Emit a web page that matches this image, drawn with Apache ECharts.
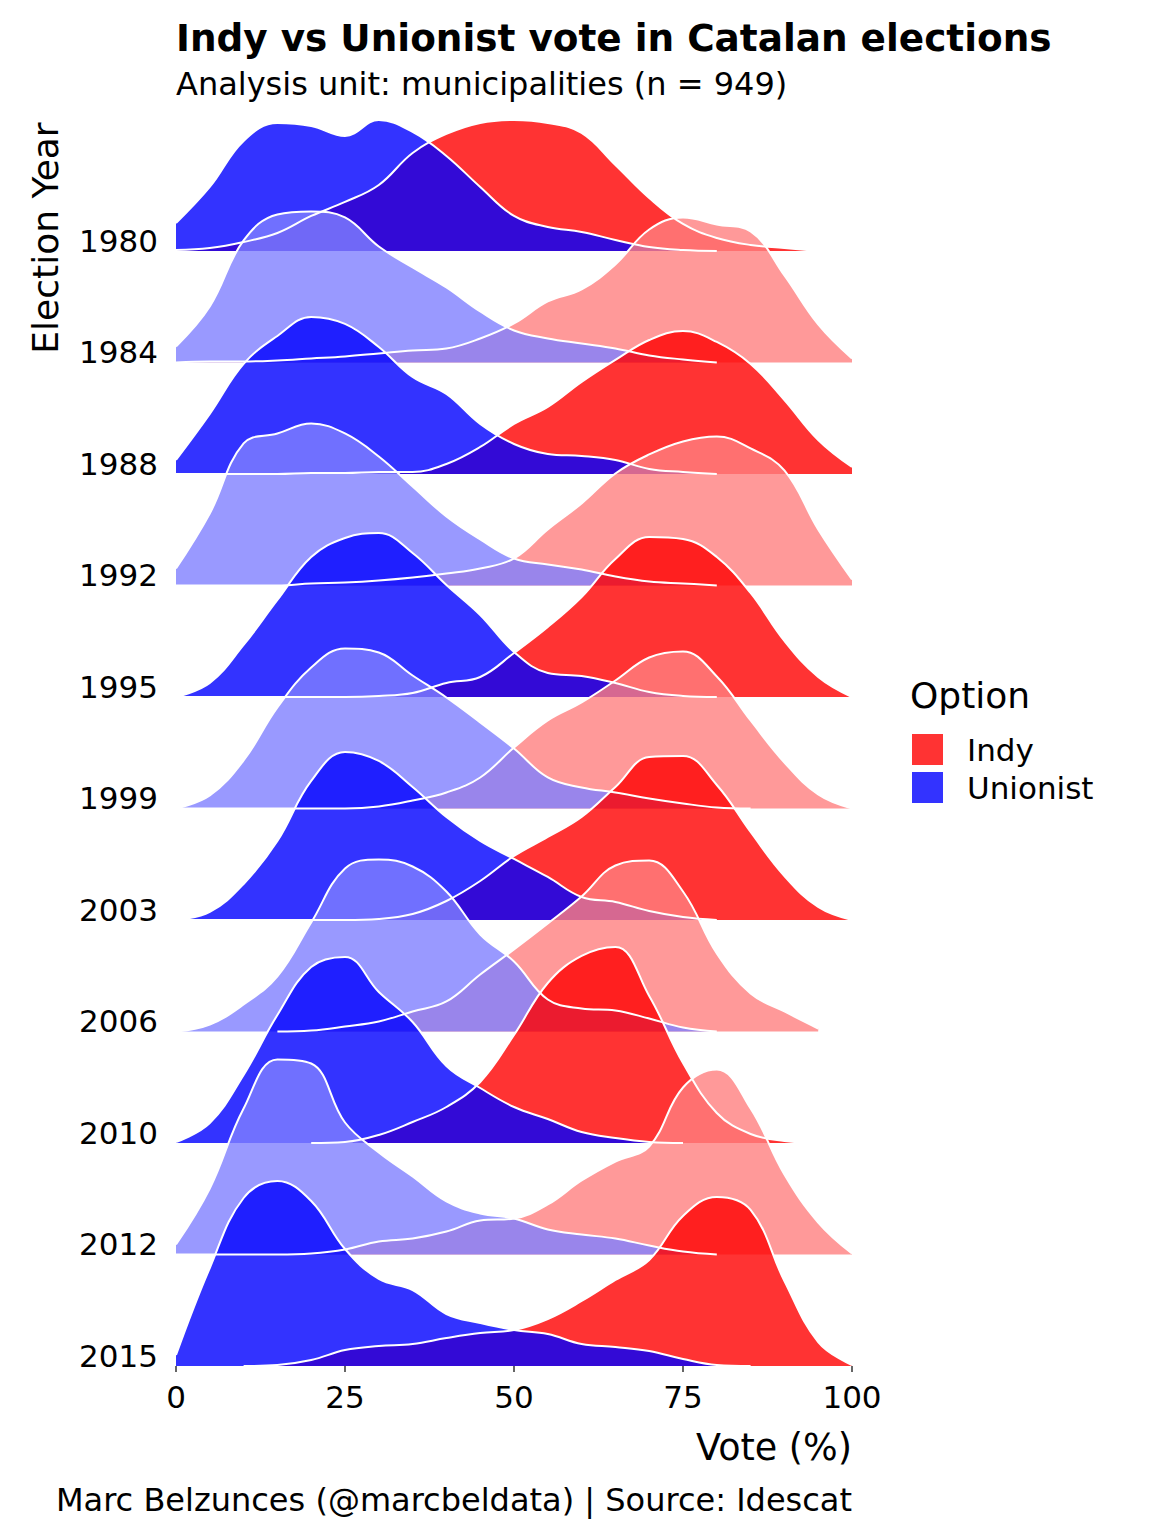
<!DOCTYPE html>
<html>
<head>
<meta charset="utf-8">
<title>Indy vs Unionist vote in Catalan elections</title>
<script src="https://cdn.jsdelivr.net/npm/echarts@6/dist/echarts.min.js"></script>
<style>
  html, body { margin: 0; padding: 0; background: #fff; }
  #main { width: 1152px; height: 1536px; }
</style>
</head>
<body>
<div id="main"></div>
<script>
// vote share (%) at which every density curve was read
var votePoints = [0, 5, 10, 15, 20, 25, 30, 35, 40, 45, 50, 55, 60, 65, 70, 75, 80, 85, 90, 95, 100];
var years = ['1980', '1984', '1988', '1992', '1995', '1999', '2003', '2006', '2010', '2012', '2015'];
var options = ['Indy', 'Unionist'];

// density heights (relative units), null = outside data range
var indy1980     = [1, 3, 9, 18, 35, 49, 66, 98, 117, 128, 131, 128, 118, 86, 53, 27, 13, 6, 3, 0, null];
var unionist1980 = [28, 64, 110, 128, 125, 115, 131, 119, 95, 64, 35, 24, 19, 11, 4, 1, 0, null, null, null, null];
var indy1984     = [0, 1, 1, 2, 4, 6, 9, 12, 14, 24, 39, 61, 73, 98, 133, 145, 138, 131, 87, 38, 4];
var unionist1984 = [16, 56, 122, 148, 151, 145, 116, 95, 75, 51, 32, 24, 19, 14, 7, 3, 0, null, null, null, null];
var indy1988     = [0, 0, 0, 0, 1, 1, 2, 2, 10, 27, 50, 67, 92, 114, 134, 143, 132, 110, 74, 34, 7];
var unionist1988 = [14, 60, 110, 138, 157, 150, 127, 97, 80, 50, 30, 20, 18, 14, 5, 2, 0, null, null, null, null];
var indy1992     = [0, 0, 0, 0, 2, 3, 5, 8, 12, 17, 27, 56, 82, 112, 131, 144, 149, 137, 115, 56, 6];
var unionist1992 = [17, 72, 142, 152, 162, 152, 129, 99, 69, 46, 27, 21, 16, 9, 4, 2, 0, null, null, null, null];
var indy1995     = [0, 0, 0, 0, 0, 0, 1, 4, 14, 20, 44, 70, 100, 138, 160, 158, 140, 104, 56, 20, 0];
var unionist1995 = [0, 14, 52, 97, 140, 159, 164, 144, 112, 82, 45, 24, 21, 14, 5, 1, 0, null, null, null, null];
var indy1999     = [0, 0, 0, 0, 0, 0, 2, 8, 16, 31, 61, 88, 106, 128, 151, 157, 132, 88, 46, 14, 0];
var unionist1999 = [0, 13, 48, 101, 141, 160, 156, 133, 111, 86, 60, 31, 21, 16, 10, 5, 1, 0, null, null, null];
var indy2003     = [0, 0, 0, 0, 0, 0, 1, 6, 19, 39, 64, 83, 103, 133, 163, 164, 135, 88, 44, 13, 0];
var unionist2003 = [0, 8, 36, 79, 139, 168, 159, 133, 103, 79, 61, 43, 23, 18, 9, 3, 0, null, null, null, null];
var indy2006     = [null, null, null, 0, 1, 5, 10, 20, 30, 57, 82, 108, 135, 166, 171, 140, 78, 38, 20, 3, null];
var unionist2006 = [0, 7, 27, 55, 109, 163, 172, 165, 140, 97, 70, 32, 23, 21, 13, 4, 0, null, null, null, null];
var indy2010     = [null, null, null, null, 0, 1, 8, 21, 36, 61, 108, 160, 187, 196, 147, 80, 30, 9, 2, 0, null];
var unionist2010 = [1, 20, 68, 128, 176, 186, 151, 121, 77, 55, 36, 24, 11, 5, 1, 0, null, null, null, null, null];
var indy2012     = [0, 0, 0, 0, 1, 5, 13, 16, 23, 34, 36, 50, 74, 93, 108, 167, 185, 146, 80, 32, 1];
var unionist2012 = [10, 66, 146, 195, 191, 132, 102, 78, 53, 41, 36, 25, 20, 16, 9, 3, 0, null, null, null, null];
var indy2015     = [null, null, 0, 1, 6, 16, 20, 22, 28, 33, 36, 47, 65, 86, 106, 150, 169, 156, 85, 24, 1];
var unionist2015 = [11, 98, 168, 185, 165, 117, 87, 76, 52, 43, 36, 32, 22, 19, 15, 7, 1, 0, null, null, null];

var indyByYear = [indy1980, indy1984, indy1988, indy1992, indy1995, indy1999, indy2003, indy2006, indy2010, indy2012, indy2015];
var unionistByYear = [unionist1980, unionist1984, unionist1988, unionist1992, unionist1995, unionist1999,
    unionist2003, unionist2006, unionist2010, unionist2012, unionist2015];

var densityPerRow = 111.5;   // density units that fill one ridge row
var font = 'DejaVu Sans';
// strong / pale fill for alternating years
var indyFill = ['rgba(255,0,0,0.8)', 'rgba(255,128,128,0.8)'];
var unionistFill = ['rgba(0,0,255,0.8)', 'rgba(128,128,255,0.8)'];

// one line+area per ridge, baseline = row index
function ridge(name, values, row, fill) {
    var pts = [];
    for (var i = 0; i < votePoints.length; i++) {
        if (values[i] == null) continue;
        pts.push([votePoints[i], row + values[i] / densityPerRow]);
    }
    return {
        type: 'line',
        name: name,
        data: pts,
        smooth: 0.4,
        symbol: 'none',
        silent: true,
        color: fill,
        lineStyle: { color: '#ffffff', width: 2 },
        areaStyle: { color: fill, opacity: 1, origin: row },
        emphasis: { disabled: true },
        z: 2
    };
}

var series = [];
for (var k = 0; k < years.length; k++) {
    var row = years.length - 1 - k;
    series.push(ridge('Indy', indyByYear[k], row, indyFill[k % 2]));
    series.push(ridge('Unionist', unionistByYear[k], row, unionistFill[k % 2]));
}

var chart = echarts.init(document.getElementById('main'), null, { renderer: 'svg' });
chart.setOption({
    animation: false,
    backgroundColor: '#ffffff',
    textStyle: { fontFamily: font },
    grid: { left: 176, right: 300, top: 106, bottom: 170, containLabel: false },
    xAxis: {
        type: 'value',
        min: 0, max: 100, interval: 25,
        axisLine: { show: false },
        axisTick: { show: true, length: 6, lineStyle: { color: '#333', width: 1.5 } },
        splitLine: { show: false },
        axisLabel: { fontSize: 31, color: '#000', margin: 15, fontFamily: font }
    },
    yAxis: {
        type: 'value',
        min: 0, max: 11.3, interval: 1,
        axisLine: { show: false },
        axisTick: { show: false },
        splitLine: { show: false },
        axisLabel: {
            fontSize: 31, color: '#000', margin: 18, fontFamily: font,
            verticalAlign: 'bottom', lineHeight: 20,
            showMaxLabel: false,
            formatter: function (v) {
                if (Math.round(v) !== v || v < 0 || v > years.length - 1) return '';
                return years[years.length - 1 - v];
            }
        }
    },
    legend: {
        orient: 'vertical',
        left: 907, top: 729,
        icon: 'rect',
        itemWidth: 31, itemHeight: 31, itemGap: 7,
        selectedMode: false,
        textStyle: { fontSize: 31, color: '#000', fontFamily: font, padding: [0, 0, 0, 19] },
        data: [
            { name: options[0], itemStyle: { color: '#ff3333', borderWidth: 0 } },
            { name: options[1], itemStyle: { color: '#3333ff', borderWidth: 0 } }
        ]
    },
    graphic: [
        { type: 'text', x: 176, y: 38, style: { text: 'Indy vs Unionist vote in Catalan elections', fontFamily: font, fontSize: 37.4, fontWeight: 'bold', fill: '#000', align: 'left', verticalAlign: 'middle' } },
        { type: 'text', x: 176, y: 84, style: { text: 'Analysis unit: municipalities (n = 949)', fontFamily: font, fontSize: 32, fill: '#000', align: 'left', verticalAlign: 'middle' } },
        { type: 'text', x: 45, y: 238, rotation: Math.PI / 2, style: { text: 'Election Year', fontFamily: font, fontSize: 36, fill: '#000', align: 'center', verticalAlign: 'middle' } },
        { type: 'text', x: 852, y: 1447, style: { text: 'Vote (%)', fontFamily: font, fontSize: 36.5, fill: '#000', align: 'right', verticalAlign: 'middle' } },
        { type: 'text', x: 852, y: 1500, style: { text: 'Marc Belzunces (@marcbeldata) | Source: Idescat', fontFamily: font, fontSize: 32, fill: '#000', align: 'right', verticalAlign: 'middle' } },
        { type: 'text', x: 910, y: 695, style: { text: 'Option', fontFamily: font, fontSize: 36, fill: '#000', align: 'left', verticalAlign: 'middle' } }
    ],
    series: series
});
</script>
</body>
</html>
